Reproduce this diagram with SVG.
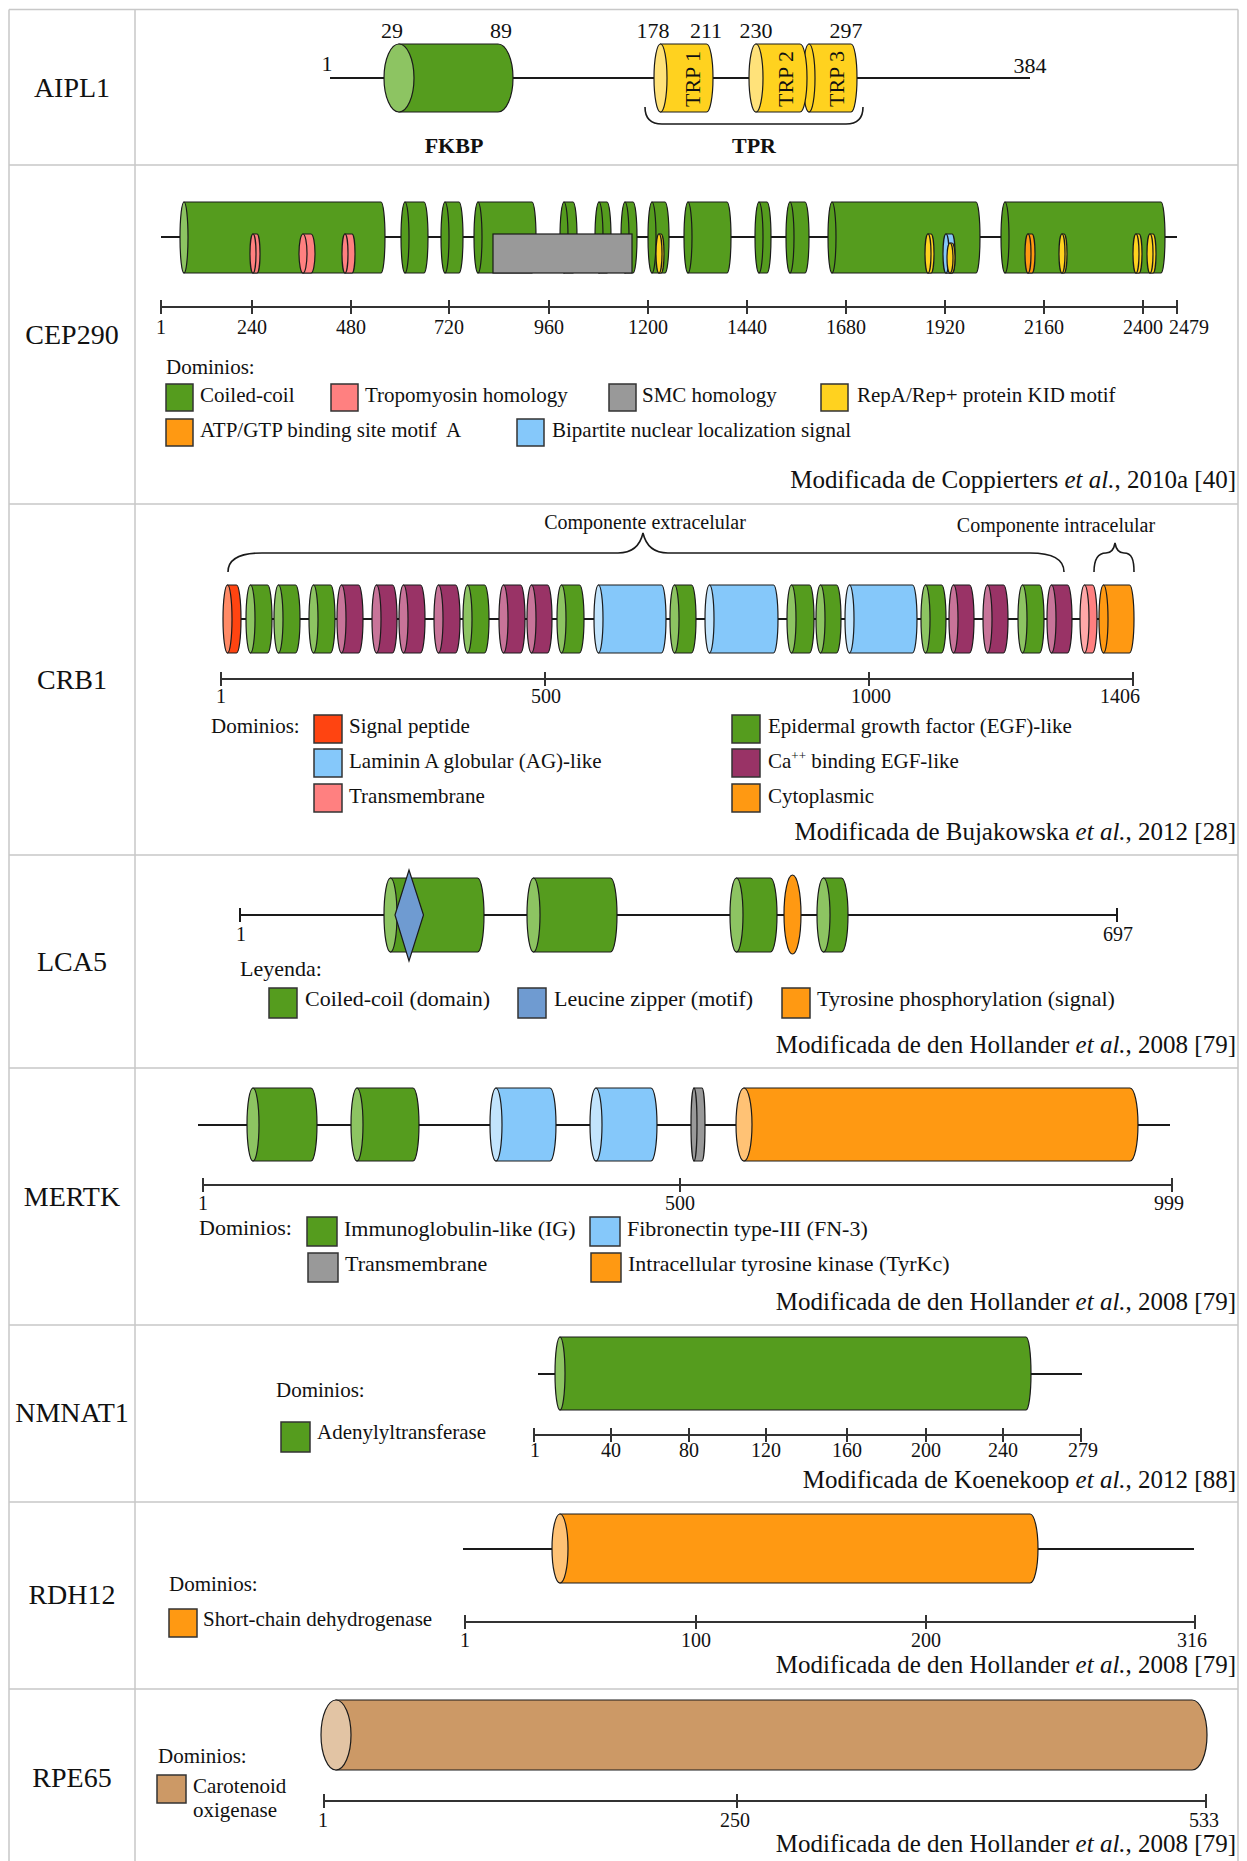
<svg xmlns="http://www.w3.org/2000/svg" width="1247" height="1861" viewBox="0 0 1247 1861">
<style>
text{font-family:"Liberation Serif","Times New Roman",serif;fill:#111}
.row{font-size:28px;text-anchor:middle}
.num{font-size:20px;text-anchor:middle}
.an{font-size:22px;text-anchor:middle}
.leg{font-size:21px}
.leg20{font-size:21px}
.leg22{font-size:22px}
.cit{font-size:25px;text-anchor:end}
.bold{font-size:22px;font-weight:bold;text-anchor:middle}
.trp{font-size:22px;text-anchor:middle}
.brl{font-size:20px;text-anchor:middle}
.grid{stroke:#c8c8c8;stroke-width:1.5;fill:none}
.bk{stroke:#1a1a1a;stroke-width:2;fill:none}
.ax{stroke:#333;stroke-width:2;fill:none}
.br{stroke:#1a1a1a;stroke-width:1.6;fill:none}
.d{stroke:#1a1a1a;stroke-width:1.2}
.lb{stroke:#333;stroke-width:1.5}
.g{fill:#559C1E}.gf{fill:#8DC462}
.y{fill:#FFD21F}.yf{fill:#FFE27A}
.p{fill:#FF8080}.pf{fill:#FFA8A8}
.gr{fill:#999999}
.o{fill:#FF9912}.of{fill:#FFC275}
.b{fill:#85C8FA}.bf{fill:#C2E4FC}
.m{fill:#993366}.mf{fill:#C87499}
.r{fill:#FF4411}.rf{fill:#FF8A66}
.bn{fill:#CC9966}.bnf{fill:#E2C4A4}
.lz{fill:#6F9BD1}
</style>
<rect x="0" y="0" width="1247" height="1861" fill="#fff"/>

<g id="table">
<path class="grid" d="M9,9.5 H1238 M9,165 H1238 M9,504 H1238 M9,855 H1238 M9,1068 H1238 M9,1325 H1238 M9,1502 H1238 M9,1689 H1238 M9,9.5 V1861 M135,9.5 V1861 M1238,9.5 V1861"/>
</g>

<g id="connectors">
<path class="bk" d="M330,78 H1030"/>
<path class="bk" d="M161,237 H1177"/>
<path class="bk" d="M223,619 H1134"/>
<path class="bk" d="M240,915 H1117 M240,908 V922 M1117,908 V922"/>
<path class="bk" d="M198,1125 H1170"/>
<path class="bk" d="M538,1374 H1082"/>
<path class="bk" d="M463,1549 H1194"/>
</g>

<g id="AIPL1">
<text class="row" x="72" y="97">AIPL1</text>
<g id="AIPL1-FKBP">
<path class="d g" d="M399,44 H498 A15,34 0 0 1 498,112 H399 Z"/>
<ellipse class="d gf" cx="399" cy="78" rx="15" ry="34"/>
</g>
<g id="AIPL1-TRP3">
<path class="d y" d="M809,44 H851 A6,34 0 0 1 851,112 H809 Z"/>
<ellipse class="d y" cx="809" cy="78" rx="6" ry="34"/>
<text class="trp" transform="translate(844,79) rotate(-90)">TRP 3</text>
</g>
<g id="AIPL1-TRP1">
<path class="d y" d="M660.5,44 H706.5 A6.5,34 0 0 1 706.5,112 H660.5 Z"/>
<ellipse class="d yf" cx="660.5" cy="78" rx="6.5" ry="34"/>
<text class="trp" transform="translate(700,79) rotate(-90)">TRP 1</text>
</g>
<g id="AIPL1-TRP2">
<path class="d y" d="M756,44 H800 A7,34 0 0 1 800,112 H756 Z"/>
<ellipse class="d yf" cx="756" cy="78" rx="7" ry="34"/>
<text class="trp" transform="translate(793,79) rotate(-90)">TRP 2</text>
</g>
<text class="an" x="327" y="71">1</text>
<text class="an" x="392" y="38">29</text>
<text class="an" x="501" y="38">89</text>
<text class="an" x="653" y="38">178</text>
<text class="an" x="706" y="38">211</text>
<text class="an" x="756" y="38">230</text>
<text class="an" x="846" y="38">297</text>
<text class="an" x="1030" y="73">384</text>
<path class="br" d="M645,107 C645,119 651,124 662,124 H846 C857,124 863,119 863,107"/>
<text class="bold" x="454" y="153">FKBP</text>
<text class="bold" x="754" y="153">TPR</text>
</g>

<g id="CEP290">
<text class="row" x="72" y="344">CEP290</text>
<g id="CEP290-coils">
<path class="d g" d="M184,202 H381 A4,35.5 0 0 1 381,273 H184 Z"/><ellipse class="d gf" cx="184" cy="237.5" rx="4" ry="35.5"/>
<path class="d g" d="M405,202 H424 A4,35.5 0 0 1 424,273 H405 Z"/><ellipse class="d g" cx="405" cy="237.5" rx="4" ry="35.5"/>
<path class="d g" d="M445,202 H459 A4,35.5 0 0 1 459,273 H445 Z"/><ellipse class="d g" cx="445" cy="237.5" rx="4" ry="35.5"/>
<path class="d g" d="M478,202 H532 A4,35.5 0 0 1 532,273 H478 Z"/><ellipse class="d g" cx="478" cy="237.5" rx="4" ry="35.5"/>
<path class="d g" d="M564,202 H573 A4,35.5 0 0 1 573,273 H564 Z"/><ellipse class="d g" cx="564" cy="237.5" rx="4" ry="35.5"/>
<path class="d g" d="M599,202 H607 A4,35.5 0 0 1 607,273 H599 Z"/><ellipse class="d g" cx="599" cy="237.5" rx="4" ry="35.5"/>
<path class="d g" d="M625,202 H633 A4,35.5 0 0 1 633,273 H625 Z"/><ellipse class="d g" cx="625" cy="237.5" rx="4" ry="35.5"/>
<path class="d g" d="M652,202 H665 A4,35.5 0 0 1 665,273 H652 Z"/><ellipse class="d g" cx="652" cy="237.5" rx="4" ry="35.5"/>
<path class="d g" d="M688,202 H727 A4,35.5 0 0 1 727,273 H688 Z"/><ellipse class="d g" cx="688" cy="237.5" rx="4" ry="35.5"/>
<path class="d g" d="M759,202 H767 A4,35.5 0 0 1 767,273 H759 Z"/><ellipse class="d g" cx="759" cy="237.5" rx="4" ry="35.5"/>
<path class="d g" d="M790,202 H805 A4,35.5 0 0 1 805,273 H790 Z"/><ellipse class="d g" cx="790" cy="237.5" rx="4" ry="35.5"/>
<path class="d g" d="M832,202 H976 A4,35.5 0 0 1 976,273 H832 Z"/><ellipse class="d g" cx="832" cy="237.5" rx="4" ry="35.5"/>
<path class="d g" d="M1005,202 H1161 A4,35.5 0 0 1 1161,273 H1005 Z"/><ellipse class="d g" cx="1005" cy="237.5" rx="4" ry="35.5"/>
</g>
<rect id="CEP290-SMC" class="d gr" x="493" y="234" width="139" height="39"/>
<g id="CEP290-motifs">
<path class="d p" d="M253,234 H257 A3,19.5 0 0 1 257,273 H253 Z"/><ellipse class="d p" cx="253" cy="253.5" rx="3" ry="19.5"/>
<path class="d p" d="M303,234 H311 A4,19.5 0 0 1 311,273 H303 Z"/><ellipse class="d p" cx="303" cy="253.5" rx="4" ry="19.5"/>
<path class="d p" d="M345,234 H352 A3,19.5 0 0 1 352,273 H345 Z"/><ellipse class="d p" cx="345" cy="253.5" rx="3" ry="19.5"/>
<path class="d y" d="M659,234 H661 A3,19.5 0 0 1 661,273 H659 Z"/><ellipse class="d y" cx="659" cy="253.5" rx="3" ry="19.5"/>
<path class="d y" d="M928,234 H931 A3,19.5 0 0 1 931,273 H928 Z"/><ellipse class="d y" cx="928" cy="253.5" rx="3" ry="19.5"/>
<path class="d b" d="M946,234 H952 A3,19.5 0 0 1 952,273 H946 Z"/><ellipse class="d b" cx="946" cy="253.5" rx="3" ry="19.5"/>
<path class="d y" d="M950,243 H952 A3,15 0 0 1 952,273 H950 Z"/><ellipse class="d y" cx="950" cy="258" rx="3" ry="15"/>
<path class="d o" d="M1028,234 H1032 A3,19.5 0 0 1 1032,273 H1028 Z"/><ellipse class="d o" cx="1028" cy="253.5" rx="3" ry="19.5"/>
<path class="d y" d="M1062,234 H1064 A3,19.5 0 0 1 1064,273 H1062 Z"/><ellipse class="d y" cx="1062" cy="253.5" rx="3" ry="19.5"/>
<path class="d y" d="M1136,234 H1139 A3,19.5 0 0 1 1139,273 H1136 Z"/><ellipse class="d y" cx="1136" cy="253.5" rx="3" ry="19.5"/>
<path class="d y" d="M1150,234 H1153 A3,19.5 0 0 1 1153,273 H1150 Z"/><ellipse class="d y" cx="1150" cy="253.5" rx="3" ry="19.5"/>
</g>
<g id="CEP290-axis">
<path class="ax" d="M161,307 H1177 M161,300 V314 M252,300 V314 M351,300 V314 M449,300 V314 M549,300 V314 M648,300 V314 M747,300 V314 M846,300 V314 M945,300 V314 M1044,300 V314 M1143,300 V314 M1177,300 V314"/>
<text class="num" x="161" y="334">1</text>
<text class="num" x="252" y="334">240</text>
<text class="num" x="351" y="334">480</text>
<text class="num" x="449" y="334">720</text>
<text class="num" x="549" y="334">960</text>
<text class="num" x="648" y="334">1200</text>
<text class="num" x="747" y="334">1440</text>
<text class="num" x="846" y="334">1680</text>
<text class="num" x="945" y="334">1920</text>
<text class="num" x="1044" y="334">2160</text>
<text class="num" x="1143" y="334">2400</text>
<text class="num" x="1189" y="334">2479</text>
</g>
<g id="CEP290-legend">
<text class="leg20" x="166" y="374">Dominios:</text>
<rect class="lb g" x="166" y="384" width="27" height="27"/><text class="leg20" x="200" y="402">Coiled-coil</text>
<rect class="lb p" x="331" y="384" width="27" height="27"/><text class="leg20" x="365" y="402">Tropomyosin homology</text>
<rect class="lb gr" x="609" y="384" width="27" height="27"/><text class="leg20" x="642" y="402">SMC homology</text>
<rect class="lb y" x="821" y="384" width="27" height="27"/><text class="leg20" x="857" y="402">RepA/Rep+ protein KID motif</text>
<rect class="lb o" x="166" y="419" width="27" height="27"/><text class="leg20" x="200" y="437">ATP/GTP binding site motif&#160; A</text>
<rect class="lb b" x="517" y="419" width="27" height="27"/><text class="leg20" x="552" y="437">Bipartite nuclear localization signal</text>
</g>
<text class="cit" x="1236" y="488">Modificada de Coppierters <tspan font-style="italic">et al.</tspan>, 2010a [40]</text>
</g>

<g id="CRB1">
<text class="row" x="72" y="689">CRB1</text>
<path class="br" d="M228,572 C228,559 240,553 262,553 H618 C632,553 640,546 643,533 C646,546 654,553 668,553 H1030 C1052,553 1064,559 1064,572"/>
<path class="br" d="M1094,572 C1094,560 1097,553 1106,553 C1112,553 1114,549 1115,543 C1116,549 1118,553 1124,553 C1132,553 1134,560 1134,572"/>
<text class="brl" x="645" y="529">Componente extracelular</text>
<text class="brl" x="1056" y="532">Componente intracelular</text>
<g id="CRB1-domains">
<path class="d r" d="M227.5,585 H236.5 A4.5,34 0 0 1 236.5,653 H227.5 Z"/><ellipse class="d rf" cx="227.5" cy="619" rx="4.5" ry="34"/>
<path class="d g" d="M250.5,585 H267.5 A4.5,34 0 0 1 267.5,653 H250.5 Z"/><ellipse class="d gf" cx="250.5" cy="619" rx="4.5" ry="34"/>
<path class="d g" d="M278.5,585 H295.5 A4.5,34 0 0 1 295.5,653 H278.5 Z"/><ellipse class="d gf" cx="278.5" cy="619" rx="4.5" ry="34"/>
<path class="d g" d="M313.5,585 H330.5 A4.5,34 0 0 1 330.5,653 H313.5 Z"/><ellipse class="d gf" cx="313.5" cy="619" rx="4.5" ry="34"/>
<path class="d m" d="M341.5,585 H358.5 A4.5,34 0 0 1 358.5,653 H341.5 Z"/><ellipse class="d mf" cx="341.5" cy="619" rx="4.5" ry="34"/>
<path class="d m" d="M376.5,585 H392.5 A4.5,34 0 0 1 392.5,653 H376.5 Z"/><ellipse class="d mf" cx="376.5" cy="619" rx="4.5" ry="34"/>
<path class="d m" d="M403.5,585 H420.5 A4.5,34 0 0 1 420.5,653 H403.5 Z"/><ellipse class="d mf" cx="403.5" cy="619" rx="4.5" ry="34"/>
<path class="d m" d="M438.5,585 H455.5 A4.5,34 0 0 1 455.5,653 H438.5 Z"/><ellipse class="d mf" cx="438.5" cy="619" rx="4.5" ry="34"/>
<path class="d g" d="M467.5,585 H484.5 A4.5,34 0 0 1 484.5,653 H467.5 Z"/><ellipse class="d gf" cx="467.5" cy="619" rx="4.5" ry="34"/>
<path class="d m" d="M503.5,585 H520.5 A4.5,34 0 0 1 520.5,653 H503.5 Z"/><ellipse class="d mf" cx="503.5" cy="619" rx="4.5" ry="34"/>
<path class="d m" d="M531.5,585 H547.5 A4.5,34 0 0 1 547.5,653 H531.5 Z"/><ellipse class="d mf" cx="531.5" cy="619" rx="4.5" ry="34"/>
<path class="d g" d="M561.5,585 H579.5 A4.5,34 0 0 1 579.5,653 H561.5 Z"/><ellipse class="d gf" cx="561.5" cy="619" rx="4.5" ry="34"/>
<path class="d b" d="M598.5,585 H661.5 A4.5,34 0 0 1 661.5,653 H598.5 Z"/><ellipse class="d bf" cx="598.5" cy="619" rx="4.5" ry="34"/>
<path class="d g" d="M674.5,585 H691.5 A4.5,34 0 0 1 691.5,653 H674.5 Z"/><ellipse class="d gf" cx="674.5" cy="619" rx="4.5" ry="34"/>
<path class="d b" d="M709.5,585 H773.5 A4.5,34 0 0 1 773.5,653 H709.5 Z"/><ellipse class="d bf" cx="709.5" cy="619" rx="4.5" ry="34"/>
<path class="d g" d="M791.5,585 H809.5 A4.5,34 0 0 1 809.5,653 H791.5 Z"/><ellipse class="d gf" cx="791.5" cy="619" rx="4.5" ry="34"/>
<path class="d g" d="M820.5,585 H836.5 A4.5,34 0 0 1 836.5,653 H820.5 Z"/><ellipse class="d gf" cx="820.5" cy="619" rx="4.5" ry="34"/>
<path class="d b" d="M849.5,585 H912.5 A4.5,34 0 0 1 912.5,653 H849.5 Z"/><ellipse class="d bf" cx="849.5" cy="619" rx="4.5" ry="34"/>
<path class="d g" d="M925.5,585 H941.5 A4.5,34 0 0 1 941.5,653 H925.5 Z"/><ellipse class="d gf" cx="925.5" cy="619" rx="4.5" ry="34"/>
<path class="d m" d="M953.5,585 H969.5 A4.5,34 0 0 1 969.5,653 H953.5 Z"/><ellipse class="d mf" cx="953.5" cy="619" rx="4.5" ry="34"/>
<path class="d m" d="M987.5,585 H1003.5 A4.5,34 0 0 1 1003.5,653 H987.5 Z"/><ellipse class="d mf" cx="987.5" cy="619" rx="4.5" ry="34"/>
<path class="d g" d="M1022.5,585 H1039.5 A4.5,34 0 0 1 1039.5,653 H1022.5 Z"/><ellipse class="d gf" cx="1022.5" cy="619" rx="4.5" ry="34"/>
<path class="d m" d="M1051.5,585 H1067.5 A4.5,34 0 0 1 1067.5,653 H1051.5 Z"/><ellipse class="d mf" cx="1051.5" cy="619" rx="4.5" ry="34"/>
<path class="d p" d="M1084.5,585 H1092.5 A4.5,34 0 0 1 1092.5,653 H1084.5 Z"/><ellipse class="d pf" cx="1084.5" cy="619" rx="4.5" ry="34"/>
<path class="d o" d="M1103.5,585 H1129.5 A4.5,34 0 0 1 1129.5,653 H1103.5 Z"/><ellipse class="d o" cx="1103.5" cy="619" rx="4.5" ry="34"/>
</g>
<g id="CRB1-axis">
<path class="ax" d="M221,679 H1133 M221,672 V686 M545,672 V686 M869,672 V686 M1133,672 V686"/>
<text class="num" x="221" y="703">1</text>
<text class="num" x="546" y="703">500</text>
<text class="num" x="871" y="703">1000</text>
<text class="num" x="1120" y="703">1406</text>
</g>
<g id="CRB1-legend">
<text class="leg" x="211" y="733">Dominios:</text>
<rect class="lb r" x="314" y="715" width="28" height="28"/><text class="leg" x="349" y="733">Signal peptide</text>
<rect class="lb b" x="314" y="749" width="28" height="28"/><text class="leg" x="349" y="768">Laminin A globular (AG)-like</text>
<rect class="lb p" x="314" y="784" width="28" height="28"/><text class="leg" x="349" y="803">Transmembrane</text>
<rect class="lb g" x="732" y="715" width="28" height="28"/><text class="leg" x="768" y="733">Epidermal growth factor (EGF)-like</text>
<rect class="lb m" x="732" y="749" width="28" height="28"/><text class="leg" x="768" y="768">Ca<tspan font-size="13" dy="-8">++</tspan><tspan dy="8"> binding EGF-like</tspan></text>
<rect class="lb o" x="732" y="784" width="28" height="28"/><text class="leg" x="768" y="803">Cytoplasmic</text>
</g>
<text class="cit" x="1236" y="840">Modificada de Bujakowska <tspan font-style="italic">et al.</tspan>, 2012 [28]</text>
</g>

<g id="LCA5">
<text class="row" x="72" y="971">LCA5</text>
<g id="LCA5-domains">
<path class="d g" d="M390.5,878 H477.5 A6.5,37 0 0 1 477.5,952 H390.5 Z"/><ellipse class="d gf" cx="390.5" cy="915" rx="6.5" ry="37"/>
<polygon class="d lz" points="409,870 423.5,915 409,961 395,915"/>
<path class="d g" d="M533.5,878 H610.5 A6.5,37 0 0 1 610.5,952 H533.5 Z"/><ellipse class="d gf" cx="533.5" cy="915" rx="6.5" ry="37"/>
<path class="d g" d="M736.5,878 H770.5 A6.5,37 0 0 1 770.5,952 H736.5 Z"/><ellipse class="d gf" cx="736.5" cy="915" rx="6.5" ry="37"/>
<ellipse class="d o" cx="792.5" cy="914.5" rx="8.5" ry="39.5"/>
<path class="d g" d="M823.5,878 H841.5 A6.5,37 0 0 1 841.5,952 H823.5 Z"/><ellipse class="d gf" cx="823.5" cy="915" rx="6.5" ry="37"/>
</g>
<text class="num" x="241" y="941">1</text>
<text class="num" x="1118" y="941">697</text>
<g id="LCA5-legend">
<text class="leg22" x="240" y="976">Leyenda:</text>
<rect class="lb g" x="269" y="988" width="28" height="30"/><text class="leg22" x="305" y="1006">Coiled-coil (domain)</text>
<rect class="lb lz" x="518" y="988" width="28" height="30"/><text class="leg22" x="554" y="1006">Leucine zipper (motif)</text>
<rect class="lb o" x="782" y="988" width="28" height="30"/><text class="leg22" x="817" y="1006">Tyrosine phosphorylation (signal)</text>
</g>
<text class="cit" x="1236" y="1053">Modificada de den Hollander <tspan font-style="italic">et al.</tspan>, 2008 [79]</text>
</g>

<g id="MERTK">
<text class="row" x="72" y="1206">MERTK</text>
<g id="MERTK-domains">
<path class="d g" d="M253,1088 H311 A6,36.5 0 0 1 311,1161 H253 Z"/><ellipse class="d gf" cx="253" cy="1124.5" rx="6" ry="36.5"/>
<path class="d g" d="M357,1088 H413 A6,36.5 0 0 1 413,1161 H357 Z"/><ellipse class="d gf" cx="357" cy="1124.5" rx="6" ry="36.5"/>
<path class="d b" d="M496,1088 H550 A6,36.5 0 0 1 550,1161 H496 Z"/><ellipse class="d bf" cx="496" cy="1124.5" rx="6" ry="36.5"/>
<path class="d b" d="M596,1088 H651 A6,36.5 0 0 1 651,1161 H596 Z"/><ellipse class="d bf" cx="596" cy="1124.5" rx="6" ry="36.5"/>
<path class="d gr" d="M694,1088 H702 A3,36.5 0 0 1 702,1161 H694 Z"/><ellipse class="d gr" cx="694" cy="1124.5" rx="3" ry="36.5"/>
<path class="d o" d="M744,1088 H1130 A8,36.5 0 0 1 1130,1161 H744 Z"/><ellipse class="d of" cx="744" cy="1124.5" rx="8" ry="36.5"/>
</g>
<g id="MERTK-axis">
<path class="ax" d="M203,1185 H1172 M203,1178 V1192 M680,1178 V1192 M1172,1178 V1192"/>
<text class="num" x="203" y="1210">1</text>
<text class="num" x="680" y="1210">500</text>
<text class="num" x="1169" y="1210">999</text>
</g>
<g id="MERTK-legend">
<text class="leg22" x="199" y="1235">Dominios:</text>
<rect class="lb g" x="307" y="1217" width="30" height="29"/><text class="leg22" x="344" y="1236">Immunoglobulin-like (IG)</text>
<rect class="lb b" x="590" y="1217" width="30" height="29"/><text class="leg22" x="627" y="1236">Fibronectin type-III (FN-3)</text>
<rect class="lb gr" x="308" y="1253" width="30" height="29"/><text class="leg22" x="345" y="1271">Transmembrane</text>
<rect class="lb o" x="591" y="1253" width="30" height="29"/><text class="leg22" x="628" y="1271">Intracellular tyrosine kinase (TyrKc)</text>
</g>
<text class="cit" x="1236" y="1310">Modificada de den Hollander <tspan font-style="italic">et al.</tspan>, 2008 [79]</text>
</g>

<g id="NMNAT1">
<text class="row" x="72" y="1422">NMNAT1</text>
<g id="NMNAT1-domain">
<path class="d g" d="M560,1337 H1026 A5,36.5 0 0 1 1026,1410 H560 Z"/><ellipse class="d gf" cx="560" cy="1373.5" rx="5" ry="36.5"/>
</g>
<g id="NMNAT1-axis">
<path class="ax" d="M534,1435 H1081 M534,1428 V1442 M611,1428 V1442 M689,1428 V1442 M766,1428 V1442 M847,1428 V1442 M926,1428 V1442 M1003,1428 V1442 M1081,1428 V1442"/>
<text class="num" x="535" y="1457">1</text>
<text class="num" x="611" y="1457">40</text>
<text class="num" x="689" y="1457">80</text>
<text class="num" x="766" y="1457">120</text>
<text class="num" x="847" y="1457">160</text>
<text class="num" x="926" y="1457">200</text>
<text class="num" x="1003" y="1457">240</text>
<text class="num" x="1083" y="1457">279</text>
</g>
<g id="NMNAT1-legend">
<text class="leg" x="276" y="1397">Dominios:</text>
<rect class="lb g" x="281" y="1422" width="29" height="30"/><text class="leg" x="317" y="1439">Adenylyltransferase</text>
</g>
<text class="cit" x="1236" y="1488">Modificada de Koenekoop <tspan font-style="italic">et al.</tspan>, 2012 [88]</text>
</g>

<g id="RDH12">
<text class="row" x="72" y="1604">RDH12</text>
<g id="RDH12-domain">
<path class="d o" d="M560,1514 H1030 A8,34.5 0 0 1 1030,1583 H560 Z"/><ellipse class="d of" cx="560" cy="1548.5" rx="8" ry="34.5"/>
</g>
<g id="RDH12-axis">
<path class="ax" d="M465,1622 H1195 M465,1615 V1629 M696,1615 V1629 M926,1615 V1629 M1195,1615 V1629"/>
<text class="num" x="465" y="1647">1</text>
<text class="num" x="696" y="1647">100</text>
<text class="num" x="926" y="1647">200</text>
<text class="num" x="1192" y="1647">316</text>
</g>
<g id="RDH12-legend">
<text class="leg" x="169" y="1591">Dominios:</text>
<rect class="lb o" x="169" y="1609" width="28" height="28"/><text class="leg" x="203" y="1626">Short-chain dehydrogenase</text>
</g>
<text class="cit" x="1236" y="1673">Modificada de den Hollander <tspan font-style="italic">et al.</tspan>, 2008 [79]</text>
</g>

<g id="RPE65">
<text class="row" x="72" y="1787">RPE65</text>
<g id="RPE65-domain">
<path class="d bn" d="M336,1700 H1192 A15,35 0 0 1 1192,1770 H336 Z"/><ellipse class="d bnf" cx="336" cy="1735" rx="15" ry="35"/>
</g>
<g id="RPE65-axis">
<path class="ax" d="M324,1801 H1206 M324,1794 V1808 M737,1794 V1808 M1206,1794 V1808"/>
<text class="num" x="323" y="1827">1</text>
<text class="num" x="735" y="1827">250</text>
<text class="num" x="1204" y="1827">533</text>
</g>
<g id="RPE65-legend">
<text class="leg" x="158" y="1763">Dominios:</text>
<rect class="lb bn" x="157" y="1775" width="29" height="28"/>
<text class="leg" x="193" y="1793">Carotenoid</text>
<text class="leg" x="193" y="1817">oxigenase</text>
</g>
<text class="cit" x="1236" y="1852">Modificada de den Hollander <tspan font-style="italic">et al.</tspan>, 2008 [79]</text>
</g>
</svg>
